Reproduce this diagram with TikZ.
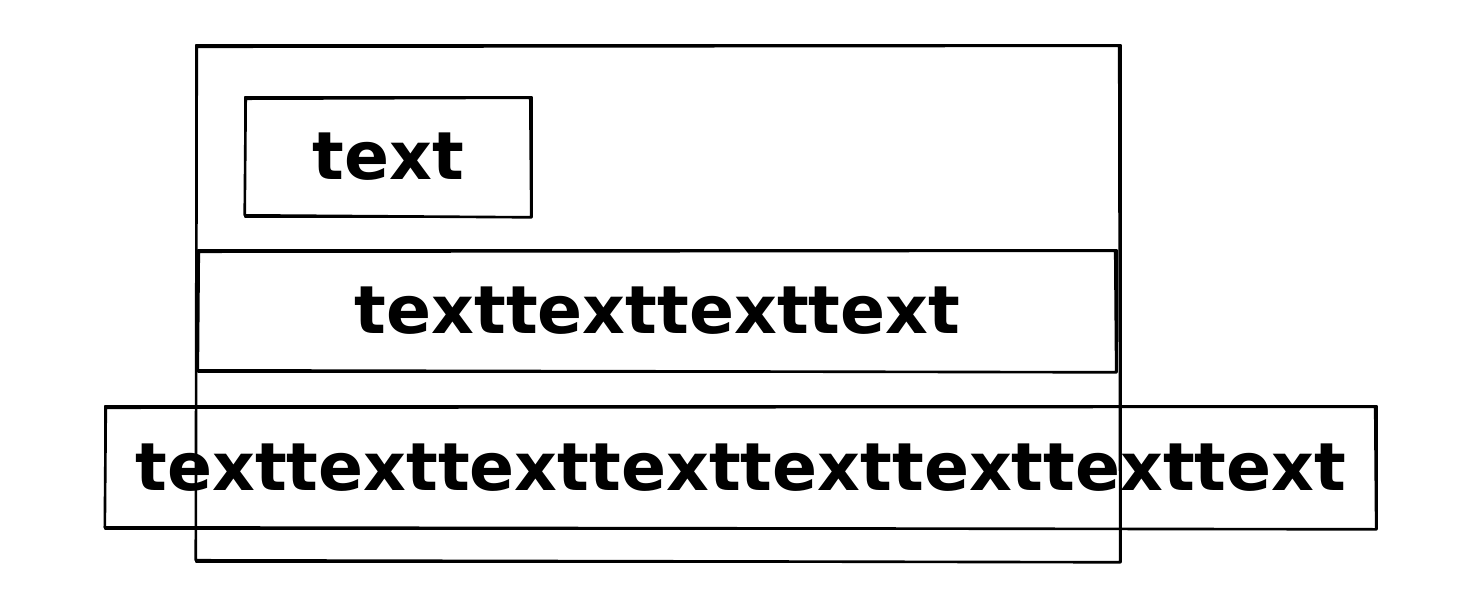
\documentclass[tikz,border=0pt]{standalone}
\usepackage{fontspec}
\setmainfont{DejaVu Sans}
% second, slightly shifted stroke round a box node
\newcommand\restroke[1]{%
  \draw[pen] ([shift={(2,3)}]#1.north west) -- ([shift={(-3,2)}]#1.north east)
    -- ([shift={(-2,-1)}]#1.south east) -- ([shift={(1,-3)}]#1.south west) -- cycle;}
\begin{document}
\begin{tikzpicture}[x=0.02cm,y=-0.02cm,line cap=round,line join=round,
  pen/.style={line width=1.5pt},
  frame/.style={pen,draw,inner sep=0pt,font=\fontsize{37.8}{46}\selectfont\bfseries}]
\useasboundingbox (0,0) rectangle (1466,600);

% outer box
\node[frame,minimum width=18.5cm,minimum height=10.34cm] (outer) at (658.5,303.5) {};
\restroke{outer}

\node[frame,minimum width=5.74cm,minimum height=2.4cm] (small) at (388.5,157) {text};
\restroke{small}

\node[frame,minimum width=18.38cm,minimum height=2.44cm] (row) at (657.5,311) {texttexttexttext};
\restroke{row}

\node[frame,minimum width=25.44cm,minimum height=2.46cm] (wide) at (741,467.5)
  {texttexttexttexttexttexttexttext};
\restroke{wide}

\end{tikzpicture}
\end{document}
